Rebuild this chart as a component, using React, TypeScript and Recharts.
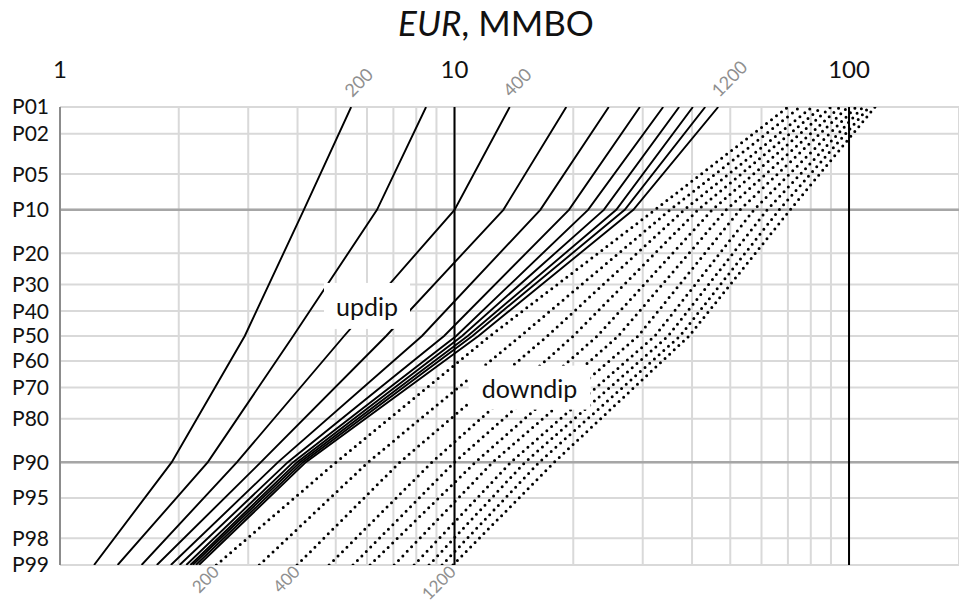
import React from 'react';
import {
  LineChart,
  Line,
  XAxis,
  YAxis,
  CartesianGrid,
  ReferenceLine,
  ReferenceDot,
  LabelList,
} from 'recharts';

// ---------- data ----------
const percentileLabels = ['P01', 'P02', 'P05', 'P10', 'P20', 'P30', 'P40', 'P50', 'P60', 'P70', 'P80', 'P90', 'P95', 'P98', 'P99'];
const percentileValues = [1, 2, 5, 10, 20, 30, 40, 50, 60, 70, 80, 90, 95, 98, 99];
const curvePercentiles = [99, 90, 50, 10, 1];
const spacings = [200, 300, 400, 500, 600, 700, 800, 900, 1000, 1100, 1200];
const labelledSpacings = [200, 400, 1200];
const xTicks = [1, 2, 3, 4, 5, 6, 7, 8, 9, 10, 20, 30, 40, 50, 60, 70, 80, 90, 100];
const xTickLabels = ['1', '10', '100'];
const xDomain = [1, 190];

// EUR (MMBO) at P99, P90, P50, P10, P01
const updipEUR = [
  [1.22, 1.92, 2.94, 4.15, 5.47],
  [1.4, 2.37, 3.9, 6.36, 8.47],
  [1.61, 2.81, 5.25, 10.0, 13.8],
  [1.76, 3.23, 6.71, 13.3, 19.2],
  [1.91, 3.57, 8.27, 16.5, 24.6],
  [2.01, 3.78, 9.41, 19.5, 29.5],
  [2.09, 3.9, 10.1, 21.8, 33.8],
  [2.14, 3.99, 10.45, 23.9, 37.1],
  [2.17, 4.06, 10.8, 25.7, 40.2],
  [2.21, 4.13, 11.1, 27.0, 43.2],
  [2.25, 4.2, 11.5, 28.4, 46.6],
];
const downdipEUR = [
  [2.49, 5.01, 12.3, 32.2, 70.0],
  [3.2, 6.04, 14.7, 35.2, 75.1],
  [3.99, 7.27, 17.2, 38.2, 80.6],
  [4.81, 8.77, 20.0, 41.4, 85.4],
  [5.53, 10.0, 23.0, 45.0, 90.0],
  [6.11, 11.3, 26.0, 48.8, 94.9],
  [7.03, 12.5, 29.2, 52.9, 99.4],
  [7.9, 13.9, 32.2, 57.4, 104.2],
  [8.62, 15.1, 34.8, 62.0, 108.5],
  [9.3, 16.4, 37.3, 66.5, 112.4],
  [9.91, 17.9, 39.3, 70.9, 116.4],
];
const annotationText = ['updip', 'downdip'];
const annotationEUR = [6.0, 15.5];
const annotationPercentile = [38, 70];

// ---------- probability (normal) scale ----------
function probit(p: number): number {
  const a = [-39.69683028665376, 220.9460984245205, -275.9285104469687, 138.357751867269, -30.66479806614716, 2.506628277459239];
  const b = [-54.47609879822406, 161.5858368580409, -155.6989798598866, 66.80131188771972, -13.28068155288572];
  const c = [-0.007784894002430293, -0.3223964580411365, -2.400758296102408, -2.549732539343734, 4.374664141464968, 2.938163982698783];
  const d = [0.007784695709041462, 0.3224671290700398, 2.445134137142996, 3.754408661907416];
  const pl = 0.02425;
  if (p < pl) {
    const q = Math.sqrt(-2 * Math.log(p));
    return (((((c[0] * q + c[1]) * q + c[2]) * q + c[3]) * q + c[4]) * q + c[5]) / ((((d[0] * q + d[1]) * q + d[2]) * q + d[3]) * q + 1);
  }
  if (p <= 1 - pl) {
    const q = p - 0.5;
    const r = q * q;
    return ((((((a[0] * r + a[1]) * r + a[2]) * r + a[3]) * r + a[4]) * r + a[5]) * q) / (((((b[0] * r + b[1]) * r + b[2]) * r + b[3]) * r + b[4]) * r + 1);
  }
  const q = Math.sqrt(-2 * Math.log(1 - p));
  return -(((((c[0] * q + c[1]) * q + c[2]) * q + c[3]) * q + c[4]) * q + c[5]) / ((((d[0] * q + d[1]) * q + d[2]) * q + d[3]) * q + 1);
}

const yTicks = percentileValues.map((p) => probit(p / 100));
const yDomain = [probit(0.01), probit(0.99)];
const yLabel = (v: number) => {
  let best = 0;
  yTicks.forEach((t, i) => {
    if (Math.abs(t - v) < Math.abs(yTicks[best] - v)) best = i;
  });
  return percentileLabels[best];
};

const toSeries = (row: number[]) => row.map((eur, i) => ({ eur, z: probit(curvePercentiles[i] / 100) }));
const updipData = updipEUR.map(toSeries);
const downdipData = downdipEUR.map(toSeries);

const FONT = 'Lato, "Open Sans", sans-serif';

const topLabel = (spacing: number) => (props: any) => {
  const { x, y, index } = props;
  if (index !== curvePercentiles.length - 1) return null;
  const tx = x + 1;
  const ty = y - 9;
  return (
    <text x={tx} y={ty} transform={`rotate(-45 ${tx} ${ty})`} textAnchor="start" fontSize={18} fill="#8f8f8f" fontFamily={FONT}>
      {spacing}
    </text>
  );
};

const bottomLabel = (spacing: number) => (props: any) => {
  const { x, y, index } = props;
  if (index !== 0) return null;
  const tx = x + 4;
  const ty = y + 8;
  return (
    <text x={tx} y={ty} transform={`rotate(-45 ${tx} ${ty})`} textAnchor="end" fontSize={17} fill="#8f8f8f" fontFamily={FONT}>
      {spacing}
    </text>
  );
};

const boxShape = (text: string, w: number, h: number) => (props: any) => {
  const { cx, cy } = props;
  return (
    <g>
      <rect x={cx - w / 2} y={cy - h / 2} width={w} height={h} fill="#ffffff" />
      <text x={cx} y={cy} textAnchor="middle" dominantBaseline="central" fontSize={25} fill="#111" fontFamily={FONT}>
        {text}
      </text>
    </g>
  );
};

export default function App() {
  return (
    <div style={{ position: 'absolute', left: 0, top: 0, width: 959, height: 605, background: '#fff', overflow: 'hidden' }}>
      <svg width={959} height={605} style={{ position: 'absolute', left: 0, top: 0 }}>
        <text x={496} y={36} textAnchor="middle" fontSize={35} fill="#111" fontFamily={FONT}>
          <tspan fontStyle="italic">EUR</tspan>, MMBO
        </text>
      </svg>
      <div style={{ position: 'absolute', left: 0, top: 0 }}>
        <LineChart width={959} height={605} margin={{ top: 67, right: 0, bottom: 40, left: 8 }}>
          <CartesianGrid stroke="#d9d9d9" strokeWidth={2} />
          <XAxis
            type="number"
            dataKey="eur"
            scale="log"
            domain={xDomain}
            allowDataOverflow
            orientation="top"
            height={40}
            ticks={xTicks}
            interval={0}
            tickFormatter={(v: number) => (xTickLabels.includes(String(v)) ? String(v) : '')}
            axisLine={false}
            tickLine={false}
            tickSize={0}
            tickMargin={29}
            tick={{ fontSize: 24, fill: '#111', fontFamily: FONT }}
          />
          <YAxis
            type="number"
            dataKey="z"
            domain={yDomain}
            allowDataOverflow
            reversed
            width={52}
            ticks={yTicks}
            interval={0}
            tickFormatter={yLabel}
            axisLine={{ stroke: '#8c8c8c', strokeWidth: 2 }}
            tickLine={false}
            tickSize={0}
            tickMargin={11}
            tick={{ fontSize: 21, fill: '#111', fontFamily: FONT }}
          />
          <ReferenceLine y={probit(0.1)} stroke="#a6a6a6" strokeWidth={2.5} />
          <ReferenceLine y={probit(0.9)} stroke="#a6a6a6" strokeWidth={2.5} />
          <ReferenceLine x={10} stroke="#000" strokeWidth={2} />
          <ReferenceLine x={100} stroke="#000" strokeWidth={2} />
          {updipData.map((d, i) => (
            <Line
              key={`u${i}`}
              data={d}
              dataKey="z"
              type="linear"
              stroke="#000"
              strokeWidth={1.9}
              dot={false}
              isAnimationActive={false}
            >
              {labelledSpacings.includes(spacings[i]) ? <LabelList content={topLabel(spacings[i])} /> : null}
            </Line>
          ))}
          {downdipData.map((d, i) => (
            <Line
              key={`d${i}`}
              data={d}
              dataKey="z"
              type="linear"
              stroke="#000"
              strokeWidth={3}
              strokeDasharray="0 6.3"
              strokeLinecap="round"
              dot={false}
              isAnimationActive={false}
            >
              {labelledSpacings.includes(spacings[i]) ? <LabelList content={bottomLabel(spacings[i])} /> : null}
            </Line>
          ))}
          <ReferenceDot x={annotationEUR[0]} y={probit(annotationPercentile[0] / 100)} r={0} shape={boxShape(annotationText[0], 86, 46)} />
          <ReferenceDot x={annotationEUR[1]} y={probit(annotationPercentile[1] / 100)} r={0} shape={boxShape(annotationText[1], 122, 44)} />
        </LineChart>
      </div>
    </div>
  );
}
